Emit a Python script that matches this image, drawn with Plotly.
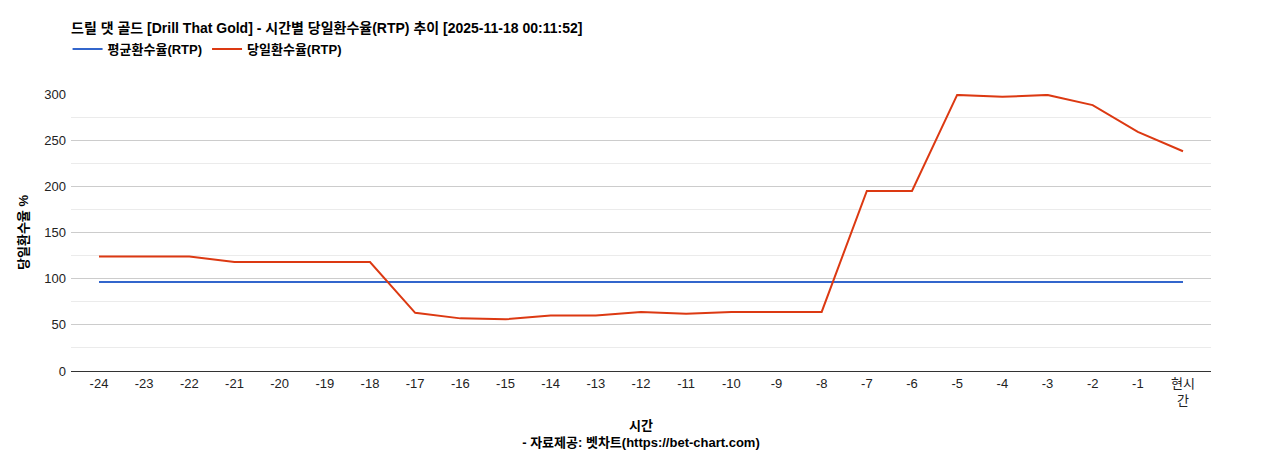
import plotly.graph_objects as go

categories = [str(i) for i in range(-24, 0)] + ["현시<br>간"]
avg_rtp = [96.5] * 25
daily_rtp = [124, 124, 124, 118, 118, 118, 118, 63, 57, 56, 60, 60, 64, 62, 64, 64, 64,
             195, 195, 299, 297, 299, 288, 259, 238]

font = "Liberation Sans, Noto Sans CJK KR"
fig = go.Figure()
fig.add_trace(go.Scatter(x=categories, y=avg_rtp, mode="lines", name="<b>평균환수율(RTP)</b>",
                         line=dict(color="#3366cc", width=2)))
fig.add_trace(go.Scatter(x=categories, y=daily_rtp, mode="lines", name="<b>당일환수율(RTP)</b>",
                         line=dict(color="#dc3912", width=2)))
fig.update_layout(
    width=1268, height=450, plot_bgcolor="white", paper_bgcolor="white",
    font=dict(family=font, size=13, color="#222"),
    margin=dict(l=63, r=65, t=86, b=87, autoexpand=False),
    title=dict(text="<b>드릴 댓 골드 [Drill That Gold] - 시간별 당일환수율(RTP) 추이 [2025-11-18 00:11:52]</b>",
               x=63/1268, xref="container", xanchor="left", y=0.955, yanchor="middle",
               font=dict(size=14, color="#000")),
    legend=dict(orientation="h", x=-0.003, xanchor="left", y=1.162, yanchor="middle",
                font=dict(size=13, color="#000"), traceorder="normal"),
    showlegend=True,
)
fig.update_xaxes(type="category", range=[-0.62, 24.62], automargin=False, showgrid=False,
                 showline=True, linecolor="#333", ticks="", tickfont=dict(size=13, color="#222"),
                 title=dict(text="<b>시간</b><br><b>- 자료제공: 벳차트(https://bet-chart.com)</b>",
                            font=dict(size=13, color="#000"), standoff=14))
fig.update_yaxes(range=[0, 300], tick0=0, dtick=50, showgrid=True, gridcolor="#cccccc",
                 automargin=False, ticklabelstandoff=4,
                 minor=dict(dtick=25, showgrid=True, gridcolor="#ebebeb"),
                 zeroline=False, tickfont=dict(size=13, color="#222"),
                 title=dict(text="<b>당일환수율 %</b>", font=dict(size=13, color="#000"), standoff=12))
fig.write_html("out.html")
